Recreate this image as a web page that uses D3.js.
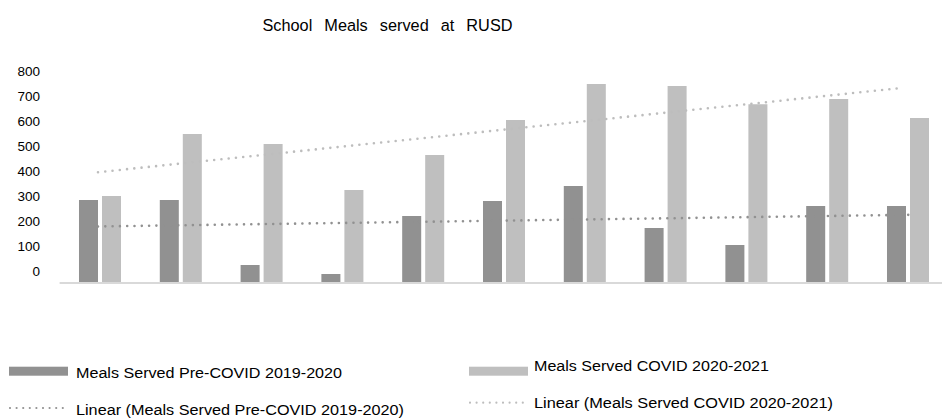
<!DOCTYPE html>
<html><head><meta charset="utf-8">
<script src="https://cdn.jsdelivr.net/npm/d3@7"></script>
<style>
html,body{margin:0;padding:0;background:#fff;}
svg{display:block;font-family:"Liberation Sans",Arial,sans-serif;}
</style></head>
<body>
<svg id="chart" width="942" height="418"></svg>
<script>
// ---- data ----
const categories = ["1","2","3","4","5","6","7","8","9","10","11"];
const seriesNames = ["Meals Served Pre-COVID 2019-2020", "Meals Served COVID 2020-2021"];
const preCovid = [328, 328, 68, 32, 264, 324, 384, 216, 148, 304, 304];
const covid = [344, 592, 552, 368, 508, 648, 792, 784, 711, 732, 656];
const yTicks = [0, 100, 200, 300, 400, 500, 600, 700, 800];
const title = "School Meals served at RUSD";

const colors = ["#919191", "#bfbfbf"];
const trendColors = ["#919191", "#bdbdbd"];

const svg = d3.select("#chart");

// title (word spacing fitted to target width)
const t = svg.append("text").attr("x", 262.5).attr("y", 30.5)
  .attr("font-size", 16.3).attr("fill", "#000").text(title);
const natural = t.node().getComputedTextLength();
const words = title.split(" ").length - 1;
t.attr("word-spacing", Math.max(0, (250 - natural) / words));

// scales
const y = d3.scaleLinear().domain([0, 800]).range([282, 82]);
const x0 = d3.scaleBand().domain(categories).range([59.6, 948.4]).paddingInner(0.48).paddingOuter(0.24);
const x1 = d3.scaleBand().domain([0, 1]).range([0, x0.bandwidth()]).paddingInner(4 / 23).paddingOuter(0);

// y axis (labels only)
const yAxis = svg.append("g").attr("transform", "translate(43,0)")
  .call(d3.axisLeft(y).tickValues(yTicks).tickSize(0).tickPadding(3).tickFormat(d3.format("d")));
yAxis.select(".domain").remove();
yAxis.selectAll("text").attr("font-size", 13.5).attr("fill", "#000")
  .attr("font-family", "Liberation Sans, Arial, sans-serif").attr("y", -10.5);

// bars
const seriesData = [preCovid, covid];
const groups = svg.append("g");
seriesData.forEach((vals, si) => {
  groups.selectAll(".bar" + si).data(vals).enter().append("rect")
    .attr("x", (d, i) => x0(categories[i]) + x1(si))
    .attr("y", d => y(d))
    .attr("width", x1.bandwidth())
    .attr("height", d => y(0) - y(d))
    .attr("fill", colors[si]);
});

// x axis line
svg.append("line").attr("x1", 59.6).attr("x2", 948.4).attr("y1", y(0) + 1).attr("y2", y(0) + 1)
  .attr("stroke", "#d9d9d9").attr("stroke-width", 2);

// linear trend lines
function linReg(vals) {
  const xs = vals.map((d, i) => i + 1);
  const mx = d3.mean(xs), my = d3.mean(vals);
  let num = 0, den = 0;
  xs.forEach((xv, i) => { num += (xv - mx) * (vals[i] - my); den += (xv - mx) * (xv - mx); });
  const b = num / den, a = my - b * mx;
  return xv => a + b * xv;
}
const cx = i => x0(categories[i]) + x0.bandwidth() / 2;
seriesData.forEach((vals, si) => {
  const f = linReg(vals);
  const n = vals.length;
  svg.append("line")
    .attr("x1", cx(0) - 2).attr("y1", y(f(1)))
    .attr("x2", cx(n - 1) + (si === 0 ? 1 : -5)).attr("y2", y(f(n)))
    .attr("stroke", trendColors[si]).attr("stroke-width", 2.6)
    .attr("stroke-linecap", "round").attr("stroke-dasharray", "0 7.3");
});

// legend
const legend = [
  {type: "bar", si: 0, x: 9, sy: 366.7, tx: 76, ty: 377.5, w: 266, text: seriesNames[0]},
  {type: "line", si: 0, x: 9, sy: 408, tx: 76, ty: 414.5, w: 328, text: "Linear (" + seriesNames[0] + ")"},
  {type: "bar", si: 1, x: 469, sy: 366.7, tx: 534, ty: 370.5, w: 235, text: seriesNames[1]},
  {type: "line", si: 1, x: 469, sy: 402.7, tx: 534, ty: 408.3, w: 299, text: "Linear (" + seriesNames[1] + ")"}
];
const lg = svg.append("g");
legend.forEach(l => {
  if (l.type === "bar") {
    lg.append("rect").attr("x", l.x).attr("y", l.sy).attr("width", 59).attr("height", 9).attr("fill", colors[l.si]);
  } else {
    lg.append("line").attr("x1", l.x + 1).attr("x2", l.x + 54).attr("y1", l.sy).attr("y2", l.sy)
      .attr("stroke", trendColors[l.si]).attr("stroke-width", 2.2)
      .attr("stroke-linecap", "round").attr("stroke-dasharray", "0 6.6");
  }
  lg.append("text").attr("x", l.tx).attr("y", l.ty).attr("font-size", 15.5).attr("fill", "#000")
    .attr("textLength", l.w).attr("lengthAdjust", "spacingAndGlyphs").text(l.text);
});
</script>
</body></html>
